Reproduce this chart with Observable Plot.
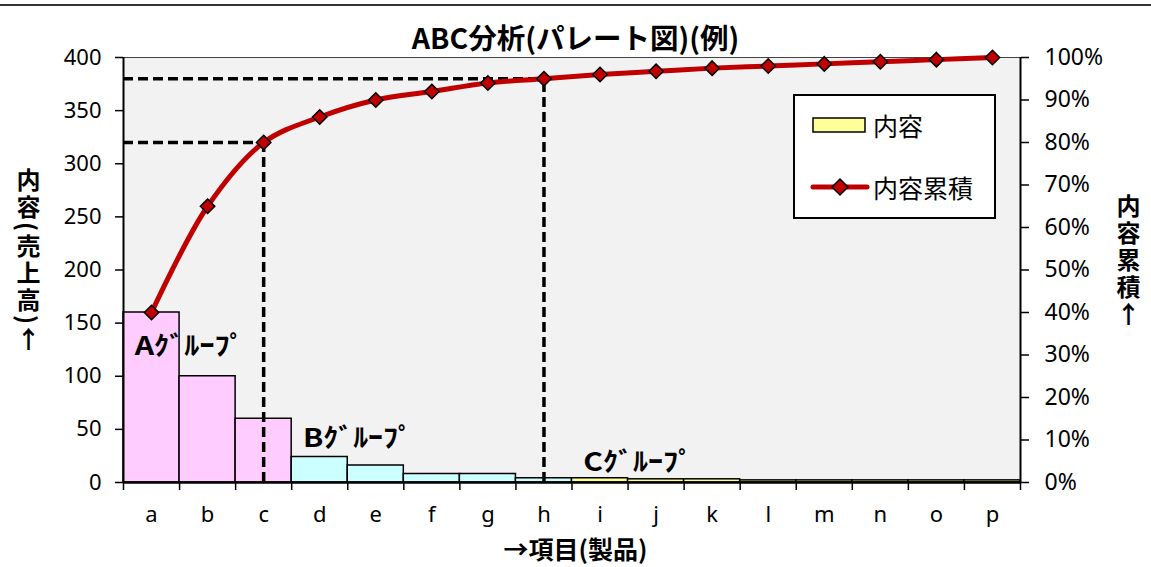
<!DOCTYPE html>
<html>
<head>
<meta charset="utf-8">
<script src="https://cdn.jsdelivr.net/npm/d3@7"></script>
<script src="https://cdn.jsdelivr.net/npm/@observablehq/plot@0.6"></script>
<style>
  html, body { margin: 0; padding: 0; background: #fff; }
  #wrap { position: relative; width: 1151px; height: 567px; overflow: hidden; font-family: "Noto Sans CJK JP", "Noto Sans", sans-serif; }
  #topline { position: absolute; left: 0; top: 4px; width: 1151px; height: 0; border-top: 2px solid #333; }
  #title { position: absolute; left: 0; width: 1151px; top: 18px; text-align: center; font-weight: bold; font-size: 28.5px; line-height: 38px; color: #000; }
  .vlabel { position: absolute; writing-mode: vertical-rl; white-space: nowrap; font-weight: bold; font-size: 24px; color: #000; line-height: 26px; height: 320px; letter-spacing: 3px; }
  .up { text-orientation: upright; }
  #xlabel { position: absolute; left: 0; width: 1151px; top: 531px; text-align: center; font-weight: bold; font-size: 25px; line-height: 34px; }
  #legend { position: absolute; left: 793px; top: 94px; width: 199px; height: 121px; background: #fff; border: 2px solid #000; }
  .lgtext { position: absolute; left: 78px; font-size: 25px; line-height: 30px; color: #000; white-space: nowrap; }
  #chart { position: absolute; left: 0; top: 0; }
</style>
</head>
<body>
<div id="wrap">
  <div id="chart"></div>
  <div id="topline"></div>
  <div id="title"></div>
  <div id="ylabelL" class="vlabel" style="left:15px; top:168px;"></div>
  <div id="ylabelR" class="vlabel" style="left:1115px; top:194px;"></div>
  <div id="xlabel"></div>
  <div id="legend"></div>
</div>
<script>
// ---- data ----
const categories = ["a","b","c","d","e","f","g","h","i","j","k","l","m","n","o","p"];
const values     = [160, 100, 60, 24, 16, 8, 8, 4, 4, 3, 3, 2, 2, 2, 2, 2];
const groups     = ["A","A","A","B","B","B","B","B","C","C","C","C","C","C","C","C"];
const groupColors = {A: "#FFCCFF", B: "#CCFFFF", C: "#FFFF99"};
const yTicksLeft  = [0, 50, 100, 150, 200, 250, 300, 350, 400];
const pctTicks    = [0, 10, 20, 30, 40, 50, 60, 70, 80, 90, 100];
const thresholds  = [{cat: "c", pct: 80}, {cat: "h", pct: 95}];
const groupLabels = [
  {text: "Aｸﾞﾙｰﾌﾟ", cat: "a", y: 120},
  {text: "Bｸﾞﾙｰﾌﾟ", cat: "d", y: 33},
  {text: "Cｸﾞﾙｰﾌﾟ", cat: "i", y: 11}
];
const titleText = "ABC分析(パレート図)(例)";
const yLabelLeft = "内容(売上高)";
const yLabelRight = "内容累積";
const arrowUp = "↑";
const xLabelText = "→項目(製品)";
const legendBar = "内容";
const legendLine = "内容累積";

// ---- derived table ----
const total = d3.sum(values);
let run = 0;
const data = categories.map((c, i) => {
  run += values[i];
  return {cat: c, i, value: values[i], cum: run, group: groups[i]};
});
const idx = c => categories.indexOf(c);
const yMax = total; // 400 == 100%

const font = '"Noto Sans", "Noto Sans CJK JP", sans-serif';

const plot = Plot.plot({
  width: 1151,
  height: 567,
  marginLeft: 123,
  marginRight: 131,
  marginTop: 57,
  marginBottom: 85,
  style: {background: "transparent", fontFamily: font, color: "#000", overflow: "visible"},
  x: {type: "linear", domain: [0, categories.length], axis: null, label: null},
  y: {domain: [0, yMax], axis: null, label: null},
  marks: [
    Plot.frame({fill: "#F2F2F2", stroke: null}),
    Plot.ruleY([yMax], {stroke: "#444", strokeWidth: 1}),
    Plot.rect(data, {
      x1: "i", x2: d => d.i + 1, y1: 0, y2: "value",
      fill: d => groupColors[d.group], stroke: "#000", strokeWidth: 1.5
    }),
    // dashed threshold lines
    Plot.ruleY(thresholds, {
      y: d => d.pct / 100 * yMax, x1: 0, x2: d => idx(d.cat) + 0.5,
      stroke: "#000", strokeWidth: 3.5, strokeDasharray: "10,5"
    }),
    Plot.ruleX(thresholds, {
      x: d => idx(d.cat) + 0.5, y1: 0, y2: d => d.pct / 100 * yMax,
      stroke: "#000", strokeWidth: 3.5, strokeDasharray: "10,5"
    }),
    // axes lines
    Plot.ruleX([0, categories.length], {stroke: "#000", strokeWidth: 2}),
    Plot.ruleY([0], {stroke: "#000", strokeWidth: 2.5}),
    // left axis
    Plot.axisY({anchor: "left", label: null, ticks: yTicksLeft, tickSize: 8, tickPadding: 14, fontSize: 22, tickFormat: d => String(d), stroke: "#000", strokeWidth: 1.5}),
    // right axis (percent)
    Plot.axisY({anchor: "right", label: null, ticks: pctTicks.map(p => p / 100 * yMax), tickSize: 8, tickPadding: 16, fontSize: 23, tickFormat: d => Math.round(d / yMax * 100) + "%", stroke: "#000", strokeWidth: 1.5}),
    // x axis ticks at band edges
    Plot.axisX({label: null, ticks: d3.range(categories.length + 1), tickSize: 8, tickFormat: () => "", stroke: "#000", strokeWidth: 1.5}),
    // x labels at centers
    Plot.axisX({label: null, ticks: categories.map((c, i) => i + 0.5), tickSize: 0, tickPadding: 24, fontSize: 22, tickFormat: d => categories[Math.floor(d)]}),
    // cumulative line
    Plot.line(data, {x: d => d.i + 0.5, y: "cum", stroke: "#C00000", strokeWidth: 5, curve: "catmull-rom"}),
    Plot.dot(data, {x: d => d.i + 0.5, y: "cum", symbol: "diamond2", r: 6.5, fill: "#C00000", stroke: "#000", strokeWidth: 1.5}),
    // group labels
    Plot.text(groupLabels, {
      x: d => idx(d.cat) + 0.2, y: "y", text: "text", textAnchor: "start", lineAnchor: "bottom",
      fontSize: 26, fontWeight: "bold", fontFamily: '"Noto Sans CJK JP", sans-serif', fill: "#000",
      className: "grp"
    })
  ]
});
plot.querySelectorAll(".grp text").forEach(t => {
  t.setAttribute("textLength", "110");
  t.setAttribute("lengthAdjust", "spacingAndGlyphs");
});
document.getElementById("chart").appendChild(plot);

document.getElementById("title").textContent = titleText;
const mkV = (el, txt) => {
  el.textContent = txt;
  const s = document.createElement("span");
  s.className = "up";
  s.textContent = arrowUp;
  el.appendChild(s);
};
mkV(document.getElementById("ylabelL"), yLabelLeft);
mkV(document.getElementById("ylabelR"), yLabelRight);
document.getElementById("xlabel").textContent = xLabelText;

// legend
const lg = document.getElementById("legend");
lg.innerHTML = `
<svg width="199" height="121" style="position:absolute;left:0;top:0">
  <rect x="18" y="22" width="52" height="14" fill="${groupColors.C}" stroke="#000" stroke-width="1.5"></rect>
  <line x1="18" x2="72" y1="91" y2="91" stroke="#C00000" stroke-width="5" stroke-linecap="round"></line>
  <path d="M45,83 L53,91 L45,99 L37,91 Z" fill="#C00000" stroke="#000" stroke-width="1.5"></path>
</svg>
<div class="lgtext" style="top:14px">${legendBar}</div>
<div class="lgtext" style="top:76px">${legendLine}</div>`;
</script>
</body>
</html>
